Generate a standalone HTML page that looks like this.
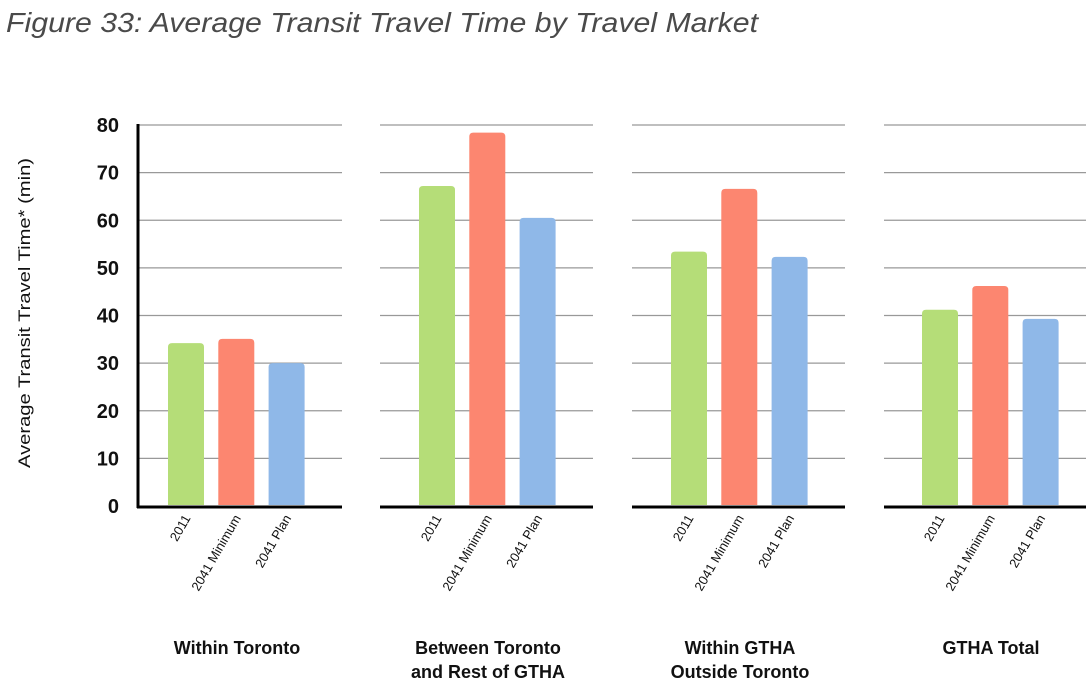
<!DOCTYPE html>
<html><head><meta charset="utf-8"><style>
body{margin:0;background:#fff;width:1086px;height:692px;overflow:hidden;font-family:"Liberation Sans",sans-serif}
</style></head><body>
<svg width="1086" height="692" id="c">
<text x="6" y="32" font-size="28" font-style="italic" fill="#4a4a4a" textLength="752" lengthAdjust="spacingAndGlyphs">Figure 33: Average Transit Travel Time by Travel Market</text>
<text transform="translate(30,313) rotate(-90)" text-anchor="middle" font-size="17" fill="#111" textLength="310" lengthAdjust="spacingAndGlyphs">Average Transit Travel Time* (min)</text>
</svg>
<script>
const markets=[["Within Toronto"],["Between Toronto","and Rest of GTHA"],["Within GTHA","Outside Toronto"],["GTHA Total"]];
const seriesNames=["2011","2041 Minimum","2041 Plan"];
const v2011=[34.2,67.2,53.4,41.2];
const vMin=[35.1,78.4,66.6,46.2];
const vPlan=[30,60.5,52.3,39.3];
const yTicks=[0,10,20,30,40,50,60,70,80];
const colors=["#b5dd78","#fc8670","#8fb8e8"];
const panelX=[137,380,632,884],panelW=[205,213,213,202],firstBar=[168,419,671,922];
const y=v=>506-v*(381/80);
const svg=document.getElementById('c'),NS="http://www.w3.org/2000/svg";
function mk(t,a,p){const e=document.createElementNS(NS,t);for(const k in a)e.setAttribute(k,a[k]);(p||svg).appendChild(e);return e;}
yTicks.forEach(t=>{
 const l=mk('text',{x:119,y:y(t)+7,'text-anchor':'end','font-size':20,'font-weight':'bold',fill:'#111'});l.textContent=t;
 
 
 if(t>0)panelX.forEach((px,i)=>{const g=mk('line',{x1:px,x2:Math.min(px+panelW[i],1086),y1:y(t),y2:y(t),stroke:'#999','stroke-width':1.3});
 
 });
});
const series=[v2011,vMin,vPlan];
panelX.forEach((px,i)=>{
 series.forEach((s,j)=>{
  const x=firstBar[i]+j*50.3,top=y(s[i]);
  const b=mk('path',{d:`M${x},505 V${top+4} Q${x},${top} ${x+4},${top} H${x+32} Q${x+36},${top} ${x+36},${top+4} V505 Z`,fill:colors[j]});
  
  
  const lx=x+23,ly=518;
  const t=mk('text',{x:lx,y:ly,'text-anchor':'end','font-size':13,fill:'#111',transform:`rotate(-60 ${lx} ${ly})`});t.textContent=seriesNames[j];
  
  
 });
 const base=mk('line',{x1:px,x2:Math.min(px+panelW[i],1086),y1:507,y2:507,stroke:'#000','stroke-width':3});
 
 
 const cx=firstBar[i]+69;
 markets[i].forEach((ln,k)=>{const t=mk('text',{x:cx,y:654+k*24,'text-anchor':'middle','font-size':18,'font-weight':'bold',fill:'#111'});t.textContent=ln;
 
 });
});
const ax=mk('line',{x1:138,x2:138,y1:124,y2:508,stroke:'#000','stroke-width':3});


</script>
</body></html>
